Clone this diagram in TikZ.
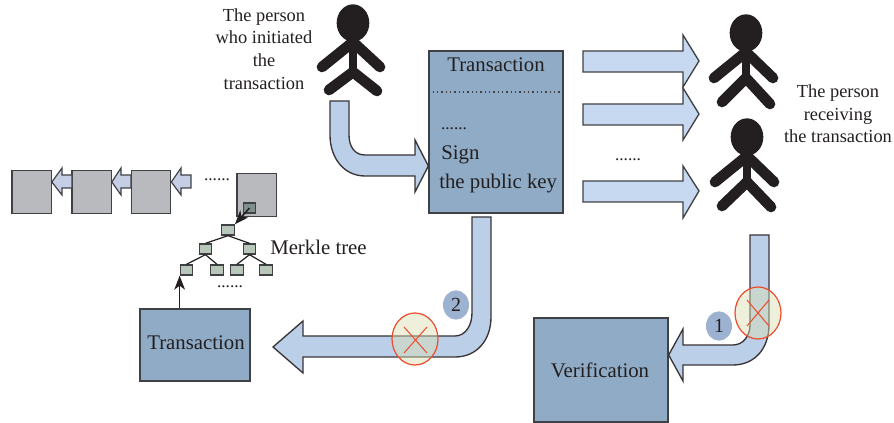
\documentclass[tikz,border=0pt]{standalone}
\usepackage{fontspec}
\setmainfont{Liberation Serif}
\usetikzlibrary{arrows.meta,shapes.geometric}
\definecolor{ink}{HTML}{231F20}
\definecolor{edgegrey}{HTML}{3F4145}
\definecolor{boxblue}{HTML}{8FABC5}
\definecolor{arrowblue}{HTML}{BCCFE8}
\definecolor{arrowlight}{HTML}{C6D9F0}
\definecolor{smallarrow}{HTML}{C5CEE4}
\definecolor{blockgrey}{HTML}{B9BABE}
\definecolor{leafgreen}{HTML}{B9C6BA}
\definecolor{innergreen}{HTML}{7F8F8C}
\definecolor{badgeblue}{HTML}{9DB1D1}
\definecolor{crossred}{HTML}{EE4B2B}
\definecolor{crossfill}{RGB}{218,222,178}
\tikzset{
  x=0.75pt,y=-0.75pt,
  label text/.style={font=\fontsize{15.6pt}{18pt}\selectfont,text=ink,inner sep=0pt,align=center},
  caption text/.style={font=\fontsize{13.8pt}{17pt}\selectfont,text=ink,inner sep=0pt,align=center},
  dots text/.style={font=\fontsize{13pt}{15pt}\selectfont,text=ink,inner sep=0pt,anchor=base},
  big box/.style={draw=edgegrey,line width=1pt,fill=boxblue,inner sep=0pt},
  block/.style={draw=edgegrey,line width=1pt,fill=blockgrey,inner sep=0pt,minimum width=29.5pt,minimum height=32pt},
  leaf/.style={draw=edgegrey,line width=1pt,fill=leafgreen,inner sep=0pt,minimum width=9.3pt,minimum height=7.5pt},
  fat arrow/.style={draw=ink!90,line width=1pt,fill=arrowblue,line join=miter},
  thin arrow/.style={draw=edgegrey,line width=1pt,fill=arrowlight},
  small arrow/.style={draw=edgegrey,line width=0.9pt,fill=smallarrow},
  limb/.style={draw=ink,line width=8pt,line cap=round},
  trunk/.style={draw=ink,line width=6pt},
  head/.style={fill=ink,draw=none,inner sep=0pt,ellipse,minimum width=24.5pt,minimum height=28pt},
  tree edge/.style={draw=ink,line width=0.9pt},
  pointer/.style={draw=ink,line width=1.1pt,-{Stealth[length=10.5pt,width=8pt,inset=3pt]}},
  crossing/.style={draw=crossred,line width=0.9pt,fill=crossfill,fill opacity=0.45,draw opacity=1,ellipse,inner sep=0pt,minimum width=34.5pt,minimum height=39pt},
  cross line/.style={draw=crossred,line width=0.75pt},
  badge/.style={fill=badgeblue,ellipse,inner sep=0pt,minimum width=19.5pt,minimum height=22pt,font=\fontsize{15pt}{17pt}\selectfont,text=ink},
}
\begin{document}
\begin{tikzpicture}
\useasboundingbox (0,0) rectangle (894,423);

% ---- boxes
\node[big box,minimum width=100.5pt,minimum height=121.5pt] (tx) at (496,132) {};
\node[big box,minimum width=82.5pt,minimum height=54pt] (tx2) at (195,345) {};
\node[big box,minimum width=100.5pt,minimum height=78pt] (ver) at (601,370) {};

% ---- texts in boxes
\node[label text] (txt1) at (496,65) {Transaction};
\draw[edgegrey,line width=0.9pt,dash pattern=on 0.9pt off 2.35pt] (tx.west |- 0,92) -- (tx.east |- 0,92);
\node[dots text] (dots1) at (454,130) {......};
\node[label text,anchor=base west] (sign) at (441,160) {Sign};
\node[label text,anchor=base west] (pk) at (439,189) {the public key};
\node[label text] (txt2) at (196,343) {Transaction};
\node[label text] (vertxt) at (600,370) {Verification};

% ---- person -> transaction
\draw[fat arrow] (330,101) -- (349,101) -- (349,135) .. controls (349,147) and (355,155) .. (365,155)
  -- (415,155) -- (415,140) -- (tx.west |- 0,166) -- (415,192) -- (415,176) -- (365,176)
  .. controls (344,176) and (330,158) .. (330,135) -- cycle;

% ---- transaction -> receivers
\draw[thin arrow] (583,51) -- (683,51) -- (683,35) -- (699,61) -- (683,87) -- (683,72) -- (583,72) -- cycle;
\draw[thin arrow] (583,104) -- (683,104) -- (683,88) -- (699,114) -- (683,140) -- (683,125) -- (583,125) -- cycle;
\draw[thin arrow] (583,181) -- (683,181) -- (683,166) -- (699,191) -- (683,218) -- (683,202) -- (583,202) -- cycle;
\node[dots text] (dots2) at (628,161) {......};

% ---- people
\node[head] (p1) at (353,23) {};
\coordinate (p1n) at (353,42); \coordinate (p1h) at (353,72);
\coordinate (p1a) at (322,67); \coordinate (p1b) at (380,67);
\coordinate (p1c) at (329,90); \coordinate (p1d) at (377,91);
\draw[trunk] (p1n) -- (p1h);
\draw[limb] (p1a) -- (p1n) -- (p1b);
\draw[limb] (p1c) -- (p1h) -- (p1d);

\node[head] (p2) at (746,33) {};
\coordinate (p2n) at (746,52); \coordinate (p2h) at (746,78);
\coordinate (p2a) at (714,78); \coordinate (p2b) at (773,78);
\coordinate (p2c) at (722,102); \coordinate (p2d) at (770,104);
\draw[trunk] (p2n) -- (p2h);
\draw[limb] (p2a) -- (p2n) -- (p2b);
\draw[limb] (p2c) -- (p2h) -- (p2d);

\node[head] (p3) at (747,137) {};
\coordinate (p3n) at (747,156); \coordinate (p3h) at (747,182);
\coordinate (p3a) at (715,182); \coordinate (p3b) at (774,182);
\coordinate (p3c) at (722,206); \coordinate (p3d) at (771,207);
\draw[trunk] (p3n) -- (p3h);
\draw[limb] (p3a) -- (p3n) -- (p3b);
\draw[limb] (p3c) -- (p3h) -- (p3d);

% ---- captions
\node[caption text] (cap1) at (264,49) {The person\\who initiated\\the\\transaction};
\node[caption text] (cap2) at (838,114) {The person\\receiving\\the transaction};
\node[label text,anchor=west] (merkle) at (270,247) {Merkle tree};

% ---- chain
\node[block] (b1) at (31.5,192) {};
\node[block] (b2) at (91.5,192) {};
\node[block] (b3) at (151,192) {};
\node[block] (b4) at (256.5,195) {};
\draw[small arrow] (72,175) -- (62,175) -- (62,168) -- (b1.east |- 0,182) -- (62,195) -- (62,188) -- (72,188) -- cycle;
\draw[small arrow] (131,175) -- (121,175) -- (121,168) -- (b2.east |- 0,182) -- (121,195) -- (121,188) -- (131,188) -- cycle;
\draw[small arrow] (191,175) -- (181,175) -- (181,168) -- (b3.east |- 0,182) -- (181,195) -- (181,188) -- (191,188) -- cycle;
\node[dots text] (dots3) at (217,181) {......};

% ---- Merkle tree
\node[leaf,fill=innergreen] (inner) at (249.5,208) {};
\node[leaf] (root) at (228,230) {};
\node[leaf] (l) at (205.5,249) {};
\node[leaf] (r) at (249.5,249) {};
\node[leaf] (ll) at (186.5,270) {};
\node[leaf] (lr) at (217,270) {};
\node[leaf] (rl) at (237,270) {};
\node[leaf] (rr) at (266,270) {};
\draw[tree edge] (root.south) -- (l.north);
\draw[tree edge] (root.south) -- (r.north);
\draw[tree edge] (l.south) -- (ll.north);
\draw[tree edge] (l.south) -- (lr.north);
\draw[tree edge] (r.south) -- (rl.north);
\draw[tree edge] (r.south) -- (rr.north);
\draw[pointer] (inner.center) -- (root.north east);
\draw[pointer] (tx2.north -| ll.south west) -- (ll.south west);
\node[dots text] (dots4) at (230,288) {......};

% ---- transaction -> tx2
\draw[fat arrow] (472,217) -- (491,217) -- (491,317) .. controls (491,340) and (477,357) .. (455,357)
  -- (303,357) -- (303,373) -- (273,347) -- (303,321) -- (303,336) -- (455,336)
  .. controls (465,336) and (472,326) .. (472,313) -- cycle;
\node[crossing] (c2) at (415,339) {};
\draw[cross line] (404,327) -- (427,353);
\draw[cross line] (427,327) -- (404,353);
\node[badge] (n2) at (456,305) {2};

% ---- receiver -> verification
\draw[fat arrow] (750,235) -- (769,235) -- (769,325) .. controls (769,348) and (755,365) .. (733,365)
  -- (683,365) -- (683,381) -- (ver.east |- 0,355) -- (683,329) -- (683,345) -- (733,345)
  .. controls (743,345) and (750,336) .. (750,325) -- cycle;
\node[crossing] (c1) at (758,313) {};
\draw[cross line] (747,300) -- (769,326);
\draw[cross line] (769,300) -- (747,326);
\node[badge] (n1) at (719,326) {1};
\end{tikzpicture}
\end{document}
